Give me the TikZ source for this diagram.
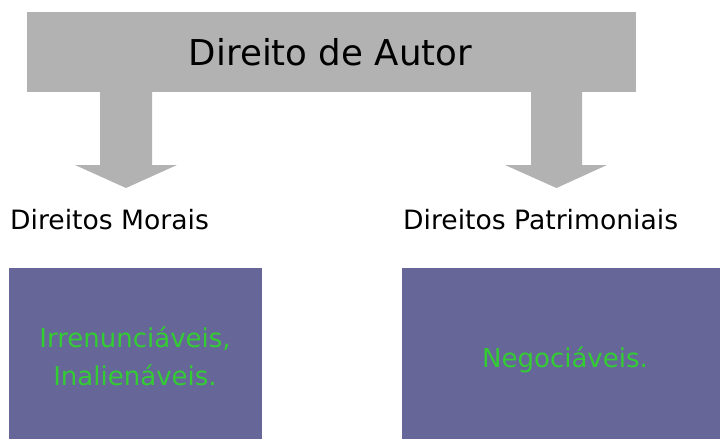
\documentclass[tikz,border=0pt]{standalone}
\usepackage{fontspec}
\setmainfont{DejaVu Sans}
\definecolor{bannergray}{HTML}{B2B2B2}
\definecolor{boxblue}{HTML}{666699}
\definecolor{boxgreen}{HTML}{33CC33}
\begin{document}
\begin{tikzpicture}[x=1pt,y=-1pt,
  banner/.style={fill=bannergray,draw=none,inner sep=0pt,minimum width=609pt,minimum height=80pt},
  block/.style={fill=boxblue,draw=none,inner sep=0pt},
  title/.style={font=\fontsize{35.6}{42}\selectfont,inner sep=0pt,anchor=base},
  label/.style={font=\fontsize{26.6}{31}\selectfont,inner sep=0pt,anchor=base west},
  green/.style={font=\fontsize{26}{38}\selectfont,text=boxgreen,inner sep=0pt,align=center,anchor=base}]
\useasboundingbox (0,0) rectangle (720,439);
\node[banner] (top) at (331.5,52) {};
\node[title] (titletext) at (330.5,65) {Direito de Autor};
% block arrows
\fill[bannergray] (100,92) -- (152,92) -- (152,165) -- (177,165) -- (126,188) -- (75,165) -- (100,165) -- cycle;
\fill[bannergray] (531,92) -- (582,92) -- (582,165) -- (607,165) -- (556.5,188) -- (505,165) -- (531,165) -- cycle;
\node[label] (moral) at (10,229) {Direitos Morais};
\node[label] (patr) at (403,229) {Direitos Patrimoniais};
\node[block,minimum width=253pt,minimum height=171pt,anchor=north west] (lbox) at (9,268) {};
\node[block,minimum width=318pt,minimum height=171pt,anchor=north west] (rbox) at (402,268) {};
\node[green] (ltext) at (135,385) {Irrenunciáveis,\\Inalienáveis.};
\node[green] (rtext) at (565,367) {Negociáveis.};
\end{tikzpicture}
\end{document}
